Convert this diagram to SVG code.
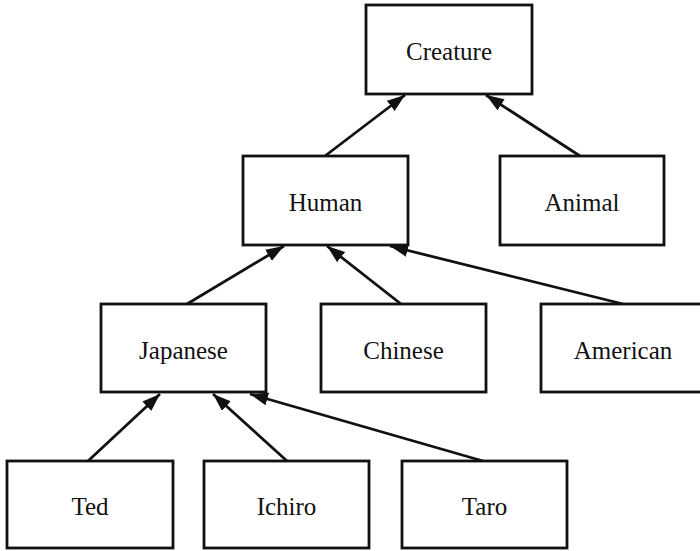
<svg xmlns="http://www.w3.org/2000/svg" width="700" height="551" viewBox="0 0 700 551">
<style>
.box{fill:#fff;stroke:#111;stroke-width:2.8}
.lbl{font-family:"Liberation Serif","Times New Roman",serif;font-size:25px;fill:#111;text-anchor:middle}
.edge{stroke:#111;stroke-width:2.8;fill:none;marker-end:url(#ah)}
</style>
<defs>
<marker id="ah" markerUnits="userSpaceOnUse" markerWidth="19" markerHeight="14" refX="18" refY="6.5" orient="auto">
<path d="M0,0 L18,6.5 L0,13 z" fill="#111"/>
</marker>
</defs>
<rect width="700" height="551" fill="#fff"/>
<g id="connectors">
<line class="edge" x1="325" y1="156" x2="405" y2="95"/>
<line class="edge" x1="580" y1="156" x2="486" y2="95"/>
<line class="edge" x1="187" y1="304" x2="284" y2="246"/>
<line class="edge" x1="401" y1="304" x2="327" y2="246"/>
<line class="edge" x1="623" y1="304" x2="390" y2="246"/>
<line class="edge" x1="88" y1="461" x2="160" y2="394"/>
<line class="edge" x1="287" y1="461" x2="213" y2="394"/>
<line class="edge" x1="483" y1="461" x2="250" y2="394"/>
</g>
<g id="creature"><rect class="box" x="366" y="5" width="166" height="89"/><text class="lbl" x="449" y="60">Creature</text></g>
<g id="human"><rect class="box" x="243" y="156" width="165" height="89"/><text class="lbl" x="325.5" y="211">Human</text></g>
<g id="animal"><rect class="box" x="500" y="156" width="164" height="89"/><text class="lbl" x="582" y="211">Animal</text></g>
<g id="japanese"><rect class="box" x="101" y="304" width="165" height="88"/><text class="lbl" x="183.5" y="359">Japanese</text></g>
<g id="chinese"><rect class="box" x="321" y="304" width="165" height="88"/><text class="lbl" x="403.5" y="359">Chinese</text></g>
<g id="american"><rect class="box" x="541" y="304" width="164" height="88"/><text class="lbl" x="623" y="359">American</text></g>
<g id="ted"><rect class="box" x="7" y="461" width="166" height="87"/><text class="lbl" x="90" y="515">Ted</text></g>
<g id="ichiro"><rect class="box" x="204" y="461" width="165" height="87"/><text class="lbl" x="286.5" y="515">Ichiro</text></g>
<g id="taro"><rect class="box" x="402" y="461" width="165" height="87"/><text class="lbl" x="484.5" y="515">Taro</text></g>
</svg>
